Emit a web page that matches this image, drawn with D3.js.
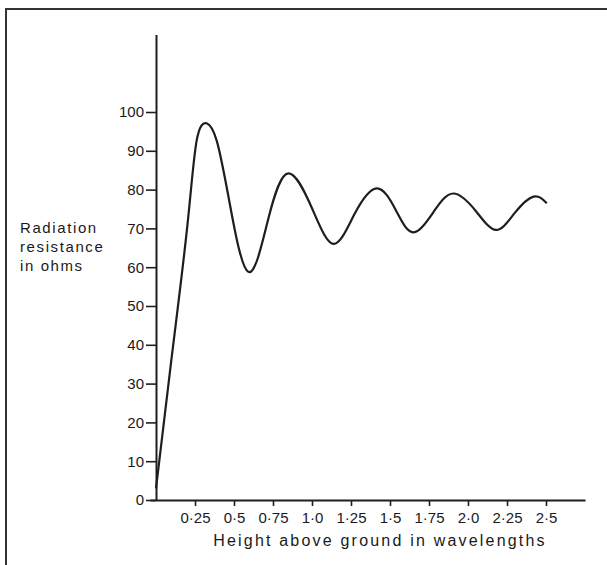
<!DOCTYPE html>
<html>
<head>
<meta charset="utf-8">
<script src="https://cdn.jsdelivr.net/npm/d3@7"></script>
<style>
  body { margin: 0; background: #fff; }
  svg text { font-family: "Liberation Sans", Arial, sans-serif; fill: #1a1a1a; }
</style>
</head>
<body>
<div id="chart"></div>
<script>
// height above ground (wavelengths) vs radiation resistance (ohms)
const heights = [0, 0.1, 0.2, 0.26, 0.325, 0.39, 0.47, 0.592, 0.72, 0.848, 1.0, 1.137, 1.27, 1.415,
  1.54, 1.65, 1.78, 1.906, 2.05, 2.18, 2.30, 2.42, 2.505];
const resistance = [3, 36.6, 70.3, 92.5, 97.1, 92.5, 77, 58.8, 72.5, 84.2, 75.2, 66.0, 73.5, 80.3,
  74.5, 69.0, 74.3, 79.0, 74.5, 69.6, 74.0, 78.2, 76.5];

const xTicks = [0.25, 0.5, 0.75, 1.0, 1.25, 1.5, 1.75, 2.0, 2.25, 2.5];
const xTickLabels = ["0·25", "0·5", "0·75", "1·0", "1·25", "1·5", "1·75", "2·0", "2·25", "2·5"];
const yTicks = [0, 10, 20, 30, 40, 50, 60, 70, 80, 90, 100];
const yLabelLines = ["Radiation", "resistance", "in ohms"];
const xTitle = "Height above ground in wavelengths";

const width = 607, height = 565;
const ink = "#1e1e1e";

const svg = d3.select("#chart").append("svg")
  .attr("width", width)
  .attr("height", height);

// page frame (top and left edges only)
svg.append("path")
  .attr("d", `M6,${height} V9 H${width}`)
  .attr("fill", "none")
  .attr("stroke", "#333")
  .attr("stroke-width", 2);

const x = d3.scaleLinear().domain([-6 / 156, 2.75]).range([150, 585]);
const y = d3.scaleLinear().domain([0, 120]).range([500, 34.4]);

const xAxis = svg.append("g")
  .attr("transform", `translate(0,${y(0)})`)
  .call(d3.axisBottom(x)
    .tickValues(xTicks)
    .tickFormat((d, i) => xTickLabels[i])
    .tickSize(6)
    .tickSizeOuter(0)
    .tickPadding(6));

const yAxis = svg.append("g")
  .attr("transform", `translate(${x(0)},0)`)
  .call(d3.axisLeft(y)
    .tickValues(yTicks)
    .tickSize(10)
    .tickSizeOuter(0)
    .tickPadding(2));

[xAxis, yAxis].forEach(g => {
  g.select(".domain").attr("stroke", ink).attr("stroke-width", 2);
  g.selectAll(".tick line").attr("stroke", ink).attr("stroke-width", 1.6);
  g.selectAll(".tick text")
    .attr("font-size", 15)
    .attr("fill", ink)
    .style("font-family", "'Liberation Sans', Arial, sans-serif");
});

const line = d3.line()
  .x((d, i) => x(heights[i]))
  .y(d => y(d))
  .curve(d3.curveNatural);

svg.append("path")
  .datum(resistance)
  .attr("fill", "none")
  .attr("stroke", ink)
  .attr("stroke-width", 2.2)
  .attr("stroke-linejoin", "round")
  .attr("d", line);

// y axis caption, three left-aligned lines
svg.append("text")
  .attr("x", 20)
  .attr("y", y(70) + 5)
  .attr("font-size", 15)
  .attr("letter-spacing", 1.6)
  .selectAll("tspan")
  .data(yLabelLines)
  .enter()
  .append("tspan")
  .attr("x", 20)
  .attr("dy", (d, i) => i === 0 ? 0 : 19)
  .text(d => d);

svg.append("text")
  .attr("x", 380)
  .attr("y", 546)
  .attr("text-anchor", "middle")
  .attr("font-size", 16)
  .attr("letter-spacing", 2.2)
  .text(xTitle);
</script>
</body>
</html>
